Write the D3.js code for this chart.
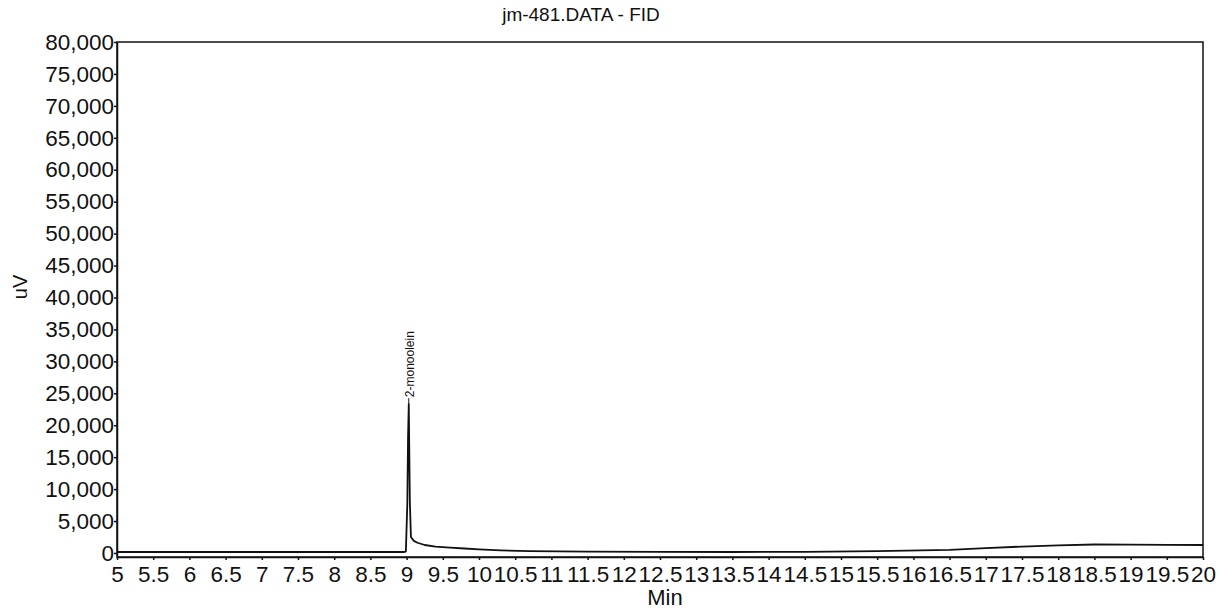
<!DOCTYPE html>
<html>
<head>
<meta charset="utf-8">
<script src="https://cdn.jsdelivr.net/npm/d3@7"></script>
<style>
  body { margin: 0; background: #fff; }
  svg { font-family: "Liberation Sans", Arial, sans-serif; }
</style>
</head>
<body>
<svg id="chart" width="1219" height="612"></svg>
<script>
// retention time (min) and detector signal (uV)
const times = [5, 6, 7, 8, 8.5, 8.97, 8.99, 9.01, 9.02, 9.03, 9.045, 9.06, 9.1, 9.15, 9.25, 9.4, 9.6, 9.8, 10, 10.3, 10.7, 11.5, 12.5, 13.5, 14.5, 15.5, 16.5, 17, 17.5, 18, 18.5, 19, 19.5, 20];
const signal = [150, 150, 150, 150, 150, 150, 250, 7800, 18000, 23300, 8000, 2500, 1900, 1600, 1250, 1000, 850, 700, 550, 400, 280, 200, 170, 150, 180, 300, 500, 750, 1000, 1200, 1330, 1320, 1280, 1250];

const xTicks = d3.range(5, 20.01, 0.5);
const yTicks = d3.range(0, 80001, 5000);

const peakTime = 9.03;
const peakValue = 23300;
const peakName = '2-monoolein';

const svg = d3.select('#chart');
const width = +svg.attr('width');
const height = +svg.attr('height');
const margin = { top: 42, right: 16, bottom: 55, left: 117 };

const xScale = d3.scaleLinear()
  .domain([5, 20])
  .range([margin.left, width - margin.right]);

const yScale = d3.scaleLinear()
  .domain([-630, 80000])
  .range([height - margin.bottom, margin.top]);

const xAxis = d3.axisBottom(xScale)
  .tickValues(xTicks)
  .tickFormat(d => d % 1 ? d.toFixed(1) : d)
  .tickSizeInner(3)
  .tickSizeOuter(0)
  .tickPadding(6);

const yAxis = d3.axisLeft(yScale)
  .tickValues(yTicks)
  .tickFormat(d3.format(','))
  .tickSizeInner(3)
  .tickSizeOuter(0)
  .tickPadding(0);

// frame
svg.append('rect')
  .attr('x', margin.left)
  .attr('y', margin.top)
  .attr('width', width - margin.left - margin.right)
  .attr('height', height - margin.top - margin.bottom)
  .attr('fill', 'none')
  .attr('stroke', '#111')
  .attr('stroke-width', 1.5);

const gx = svg.append('g')
  .attr('transform', `translate(0, ${height - margin.bottom})`)
  .call(xAxis);
gx.selectAll('text').style('font-size', '22.5px').attr('fill', '#111');
gx.selectAll('line, path').attr('stroke', '#111').attr('stroke-width', 1.5);

const gy = svg.append('g')
  .attr('transform', `translate(${margin.left}, 0)`)
  .call(yAxis);
gy.selectAll('text').style('font-size', '22.5px').attr('fill', '#111');
gy.selectAll('line, path').attr('stroke', '#111').attr('stroke-width', 1.5);

// title and axis labels
svg.append('text')
  .attr('x', 581)
  .attr('y', 21)
  .attr('text-anchor', 'middle')
  .style('font-size', '19px')
  .attr('fill', '#111')
  .text('jm-481.DATA - FID');

svg.append('text')
  .attr('transform', 'rotate(-90)')
  .attr('x', -287)
  .attr('y', 27)
  .attr('text-anchor', 'middle')
  .style('font-size', '20px')
  .attr('fill', '#111')
  .text('uV');

svg.append('text')
  .attr('x', 665)
  .attr('y', 605)
  .attr('text-anchor', 'middle')
  .style('font-size', '22px')
  .attr('fill', '#111')
  .text('Min');

// trace
const line = d3.line()
  .x((d, i) => xScale(times[i]))
  .y(d => yScale(d));

svg.append('path')
  .datum(signal)
  .attr('fill', 'none')
  .attr('stroke', '#111')
  .attr('stroke-width', 1.8)
  .attr('stroke-linejoin', 'round')
  .attr('d', line);

// peak label
const px = xScale(peakTime);
const py = yScale(peakValue);
svg.append('line')
  .attr('x1', px).attr('x2', px)
  .attr('y1', py).attr('y2', py - 6)
  .attr('stroke', '#111')
  .attr('stroke-width', 1);

svg.append('text')
  .attr('transform', `translate(${px + 5}, ${py - 7}) rotate(-90)`)
  .style('font-size', '12px')
  .attr('fill', '#111')
  .text(peakName);
</script>
</body>
</html>
